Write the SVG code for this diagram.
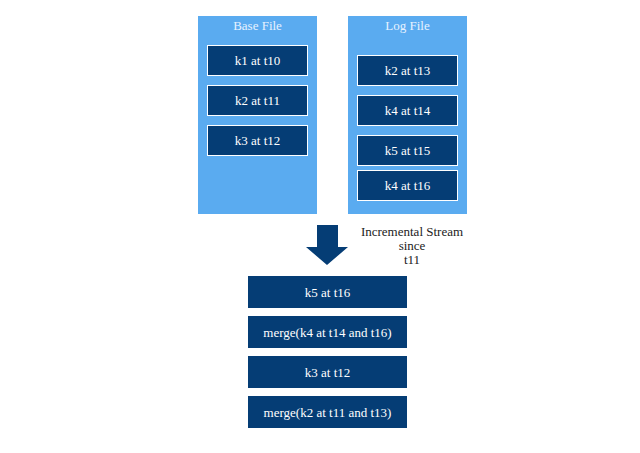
<svg xmlns="http://www.w3.org/2000/svg" width="640" height="453" viewBox="0 0 640 453">
<style>
.panel{fill:#5aabf0}
.box{fill:#053d75;stroke:#ffffff;stroke-width:1}
.sbox{fill:#053d75}
.t{font-family:"Liberation Serif","DejaVu Serif",serif;font-size:13px;fill:#ffffff;text-anchor:middle;dominant-baseline:central}
.title{font-family:"Liberation Serif","DejaVu Serif",serif;font-size:13px;fill:#e6f2ff;text-anchor:middle;dominant-baseline:central}
.lbl{font-family:"Liberation Serif","DejaVu Serif",serif;font-size:13px;fill:#222222;text-anchor:middle;dominant-baseline:central}
</style>
<rect width="640" height="453" fill="#ffffff"/>
<g id="base-file">
<rect class="panel" x="198" y="16" width="119" height="198"/>
<text class="title" x="257.5" y="25">Base File</text>
</g>
<g id="base-k1"><rect class="box" x="207.5" y="45.5" width="100" height="30"/><text class="t" x="257.5" y="60.5">k1 at t10</text></g>
<g id="base-k2"><rect class="box" x="207.5" y="85.5" width="100" height="30"/><text class="t" x="257.5" y="100.5">k2 at t11</text></g>
<g id="base-k3"><rect class="box" x="207.5" y="125.5" width="100" height="30"/><text class="t" x="257.5" y="140.5">k3 at t12</text></g>
<g id="log-file">
<rect class="panel" x="348" y="16" width="119" height="198"/>
<text class="title" x="407.5" y="25">Log File</text>
</g>
<g id="log-k2"><rect class="box" x="357.5" y="55.5" width="100" height="30"/><text class="t" x="407.5" y="70.5">k2 at t13</text></g>
<g id="log-k4a"><rect class="box" x="357.5" y="95.5" width="100" height="30"/><text class="t" x="407.5" y="110.5">k4 at t14</text></g>
<g id="log-k5"><rect class="box" x="357.5" y="135.5" width="100" height="30"/><text class="t" x="407.5" y="150.5">k5 at t15</text></g>
<g id="log-k4b"><rect class="box" x="357.5" y="170.5" width="100" height="30"/><text class="t" x="407.5" y="185.5">k4 at t16</text></g>
<g id="connectors">
<polygon points="317,225 338,225 338,247 348,247 327,265 306,247 317,247" fill="#053d75"/>
</g>
<g id="stream-label">
<text class="lbl" x="412" y="231">Incremental Stream</text>
<text class="lbl" x="412" y="245">since</text>
<text class="lbl" x="412" y="259">t11</text>
</g>
<g id="out-k5"><rect class="sbox" x="248" y="276" width="159" height="32"/><text class="t" x="327.5" y="292">k5 at t16</text></g>
<g id="out-k4"><rect class="sbox" x="248" y="316" width="159" height="32"/><text class="t" x="327.5" y="332">merge(k4 at t14 and t16)</text></g>
<g id="out-k3"><rect class="sbox" x="248" y="356" width="159" height="32"/><text class="t" x="327.5" y="372">k3 at t12</text></g>
<g id="out-k2"><rect class="sbox" x="248" y="396" width="159" height="32"/><text class="t" x="327.5" y="412">merge(k2 at t11 and t13)</text></g>
</svg>
